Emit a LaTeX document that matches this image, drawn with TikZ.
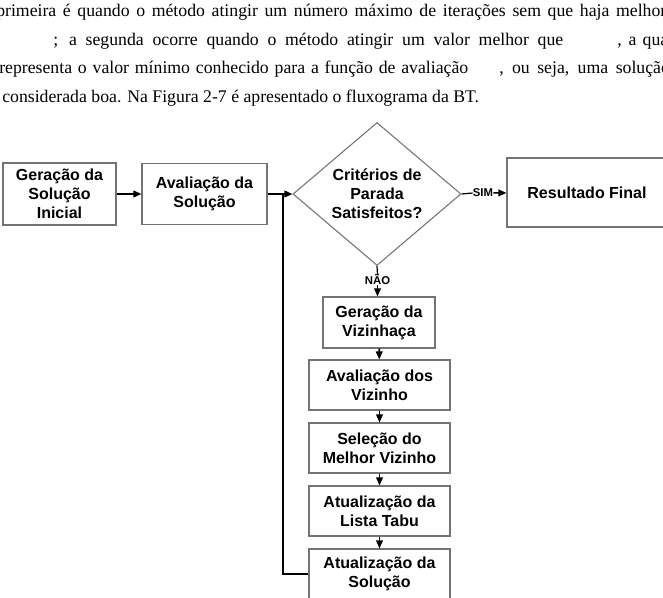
\documentclass[tikz,border=0pt]{standalone}
\usepackage{fontspec}
\setmainfont{Liberation Serif}
\newfontfamily\arial{Liberation Sans}
\usetikzlibrary{shapes.geometric,arrows.meta}

\begin{document}
\begin{tikzpicture}[x=0.75pt,y=-0.75pt]
\tikzstyle{every node}+=[inner sep=0pt]
\tikzstyle{letra}=[font=\arial\bfseries\fontsize{12}{14.3}\selectfont, align=center]
\tikzstyle{bloco}=[letra, draw=black!55, line width=0.8pt, minimum width=105.75pt, minimum height=37.5pt]
\tikzstyle{decisao}=[draw=black!55, line width=0.8pt, diamond, minimum width=126pt, minimum height=107.25pt]
\tikzstyle{rotulo}=[font=\arial\bfseries\fontsize{8.5}{10}\selectfont]
\tikzstyle{fluxo}=[line width=1.2pt, -{Triangle[length=6pt,width=5pt]}]
\tikzstyle{linha}=[line width=1.2pt]
\tikzstyle{texto}=[anchor=base west, font=\fontsize{13.3}{16}\selectfont]
\useasboundingbox (0,0) rectangle (663,598);
\clip (0,0) rectangle (663,598);

\node[texto] (l1) at (-4,17) {\makebox[502.5pt][s]{primeira é quando o método atingir um número máximo de iterações sem que haja melhor}};
\node[texto] (l2a) at (53,45.5) {\makebox[382.5pt][s]{; a segunda ocorre quando o método atingir um valor melhor que}};
\node[texto] (l2b) at (617,45.5) {\makebox[42pt][s]{, a qual}};
\node[texto] (l3a) at (-1,74) {\makebox[351.75pt][s]{representa o valor mínimo conhecido para a função de avaliação}};
\node[texto] (l3b) at (499,74) {\makebox[128pt][s]{, ou seja, uma solução}};
\node[texto] (l4) at (2,102.5) {considerada boa. Na Figura 2-7 é apresentado o fluxograma da BT.};

\node[bloco, minimum width=84.75pt, minimum height=46.5pt] (gen) at (59.5,194) {Geração da\\Solução\\Inicial};
\node[bloco, minimum width=93.75pt, minimum height=45.75pt] (aval) at (204.5,194) {Avaliação da\\Solução};
\node[decisao, label={[letra]center:{Critérios de\\Parada\\Satisfeitos?}}] (crit) at (377,194) {};
\node[bloco, minimum width=120pt, minimum height=51.75pt] (res) at (587,192.5) {Resultado Final};
\node[rotulo] (sim) at (483,193) {SIM};
\node[rotulo] (nao) at (377.5,280) {NÃO};
\node[bloco, minimum width=84pt, minimum height=38.25pt] (viz) at (379,322.5) {Geração da\\Vizinhaça};
\node[bloco] (avv) at (379.5,385) {Avaliação dos\\Vizinho};
\node[bloco] (sel) at (379.5,448) {Seleção do\\Melhor Vizinho};
\node[bloco] (lista) at (379.5,511) {Atualização da\\Lista Tabu};
\node[bloco] (atu) at (379.5,574) {Atualização da\\Solução};
\coordinate (volta) at (283,194);

\draw[fluxo] (gen) -- (aval);
\draw[fluxo] (aval) -- (crit);
\draw[linha] (atu.west) -| (volta);
\draw[line width=0.9pt] (crit.east) -- (sim.west);
\draw[fluxo] (sim) -- (res);
\draw[line width=0.9pt] (crit.south) -- (nao.north);
\draw[fluxo] (nao) -- (nao |- viz.north);
\foreach \a/\b in {viz/avv, avv/sel, sel/lista, lista/atu}
  \draw[fluxo] (\a) -- (\b);
\end{tikzpicture}
\end{document}
